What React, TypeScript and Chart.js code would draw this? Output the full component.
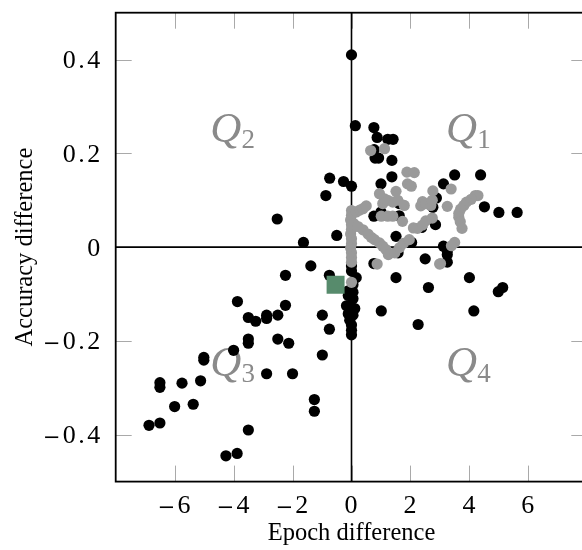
import React, { useEffect, useRef } from 'react';
import { Chart, registerables } from 'chart.js';

Chart.register(...registerables);

// ---- data ----
const xRange = [-8, 8];
const yRange = [-0.5, 0.5];
const xTicks = [-6, -4, -2, 0, 2, 4, 6];
const xTickLabels = ['\u22126', '\u22124', '\u22122', '0', '2', '4', '6'];
const yTicks = [-0.4, -0.2, 0, 0.2, 0.4];
const yTickLabels = ['\u22120.4', '\u22120.2', '0', '0.2', '0.4'];
const xTitle = 'Epoch difference';
const yTitle = 'Accuracy difference';

const quadrantNames = ['1', '2', '3', '4'];
const quadrantX = [4, -4, -4, 4];
const quadrantY = [0.25, 0.25, -0.25, -0.25];

const blackPoints: [number, number][] = [
  [0.0, 0.41], [-0.74, 0.147], [-0.27, 0.14], [0.0, 0.13], [-0.87, 0.11], [-2.52, 0.06],
  [-0.5, 0.025], [-1.63, 0.01],
  [-1.38, -0.04], [-2.24, -0.06], [-0.75, -0.06], [-3.87, -0.116], [-2.24, -0.124],
  [-3.5, -0.15], [-3.25, -0.158], [-2.88, -0.145], [-2.88, -0.152], [-2.5, -0.145],
  [-0.99, -0.145], [-0.75, -0.175], [-3.5, -0.196], [-3.5, -0.205], [-2.5, -0.196],
  [-2.13, -0.205], [-4.0, -0.22], [-5.01, -0.235], [-5.01, -0.241], [-0.99, -0.23],
  [-2.88, -0.27], [-2.0, -0.27], [-6.5, -0.289], [-6.5, -0.299], [-5.75, -0.29],
  [-5.12, -0.285], [-6.0, -0.34], [-5.37, -0.335], [-1.26, -0.325], [-1.26, -0.35],
  [-6.87, -0.38], [-6.5, -0.375], [-3.5, -0.39], [-4.26, -0.445], [-3.88, -0.44],
  [0.0, -0.04], [0.0, -0.051], [0.16, -0.065], [0.05, -0.08], [-0.11, -0.093], [0.05, -0.096],
  [-0.11, -0.103], [0.05, -0.11], [-0.17, -0.125], [-0.06, -0.131], [0.11, -0.131],
  [-0.11, -0.142], [0.05, -0.145], [-0.06, -0.156], [0.0, -0.166], [0.0, -0.177], [0.0, -0.187],
  [0.13, 0.259], [0.76, 0.255], [0.87, 0.234], [1.23, 0.23], [1.41, 0.23], [0.77, 0.208],
  [0.8, 0.19], [0.92, 0.19], [1.37, 0.185], [3.5, 0.154], [4.38, 0.154], [1.37, 0.15],
  [1.0, 0.135], [3.12, 0.135], [2.88, 0.105], [1.62, 0.093], [4.51, 0.086], [2.76, 0.085],
  [5.0, 0.074], [5.62, 0.074], [0.76, 0.066], [1.0, 0.075], [1.62, 0.067], [2.85, 0.048],
  [2.38, 0.042], [1.51, 0.023], [2.04, 0.01], [3.12, 0.002], [3.25, -0.008], [3.25, -0.016],
  [1.58, -0.012],
  [0.76, -0.035], [2.5, -0.025], [3.25, -0.032], [1.51, -0.065], [4.0, -0.065], [2.61, -0.086],
  [4.98, -0.095], [5.13, -0.086], [1.01, -0.136], [4.15, -0.136], [2.26, -0.165],
];

const grayPoints: [number, number][] = [
  [0.0, 0.078], [0.0, 0.068], [-0.03, 0.058], [0.0, 0.048], [0.0, 0.038], [-0.03, 0.028],
  [0.0, 0.018], [0.0, 0.008], [-0.03, -0.002], [0.0, -0.012], [0.0, -0.022], [0.0, -0.032],
  [0.0, -0.075],
  [0.16, 0.075], [0.28, 0.079], [0.39, 0.082], [0.5, 0.088],
  [0.08, 0.05], [0.22, 0.044], [0.39, 0.037], [0.56, 0.028], [0.67, 0.021], [0.78, 0.016],
  [0.95, 0.009], [1.06, 0.002], [1.17, -0.005], [1.25, -0.016],
  [1.47, -0.012], [1.63, -0.001], [1.76, 0.008], [1.96, 0.016],
  [0.87, -0.036], [2.99, -0.036],
  [1.73, 0.055], [2.1, 0.041], [2.24, 0.04], [2.41, 0.047], [2.52, 0.056], [2.74, 0.062],
  [1.01, 0.066], [1.23, 0.066], [1.4, 0.066],
  [1.06, 0.093], [1.23, 0.1], [1.4, 0.096], [1.57, 0.1], [1.79, 0.089], [1.12, 0.103],
  [0.95, 0.114], [1.51, 0.119],
  [1.9, 0.135], [2.03, 0.13], [1.88, 0.16], [2.13, 0.159],
  [0.65, 0.206], [1.12, 0.21],
  [2.76, 0.12], [3.38, 0.124],
  [2.35, 0.088], [2.41, 0.097], [2.52, 0.093], [2.69, 0.089], [2.74, 0.1], [3.25, 0.087],
  [4.29, 0.11], [4.2, 0.11], [4.06, 0.102], [3.9, 0.096], [3.81, 0.089], [3.7, 0.081],
  [3.64, 0.072], [3.64, 0.064], [3.69, 0.054], [3.75, 0.04],
  [3.5, 0.01], [3.39, 0.003], [3.02, -0.035],
];

const highlightPoint: [number, number][] = [[-0.54, -0.08]];

// ---- styles ----
const SERIF = '"Liberation Serif", "Times New Roman", serif';
const TICK_FONT = `26px ${SERIF}`;
const MINUS_FONT = `21px "DejaVu Serif", serif`;

const toXY = (pts: [number, number][]) => pts.map(([x, y]) => ({ x, y }));

// draws a tick label in TeX-like style: long minus sign, slightly loose digits
function drawTickLabel(ctx: CanvasRenderingContext2D, text: string, x: number, y: number, align: string) {
  const chars = Array.from(text);
  const fonts = chars.map((c) => (c === '\u2212' ? MINUS_FONT : TICK_FONT));
  const widths = chars.map((c, i) => {
    ctx.font = fonts[i];
    return ctx.measureText(c).width;
  });
  const gaps: number[] = [];
  let total = 0;
  chars.forEach((c, i) => {
    total += widths[i];
    if (i < chars.length - 1) {
      const g = c === '\u2212' ? 2 : 2.5;
      gaps.push(g);
      total += g;
    }
  });
  let cx = align === 'right' ? x - total : align === 'center' ? x - total / 2 : x;
  ctx.textAlign = 'left';
  chars.forEach((c, i) => {
    ctx.font = fonts[i];
    ctx.fillText(c, cx, c === '\u2212' ? y + 1 : y);
    cx += widths[i] + (gaps[i] || 0);
  });
}

const decorPlugin = {
  id: 'decor',
  beforeDatasetsDraw(chart: any) {
    const { ctx, chartArea: a, scales } = chart;
    const xs = scales.x;
    const ys = scales.y;
    ctx.save();
    // inside tick marks on all four sides
    ctx.strokeStyle = '#a9a9a9';
    ctx.lineWidth = 1;
    const L = 16;
    ctx.beginPath();
    for (const v of xTicks) {
      const px = Math.round(xs.getPixelForValue(v)) + 0.5;
      ctx.moveTo(px, a.top);
      ctx.lineTo(px, a.top + L);
      ctx.moveTo(px, a.bottom);
      ctx.lineTo(px, a.bottom - L);
    }
    for (const v of yTicks) {
      const py = Math.round(ys.getPixelForValue(v)) + 0.5;
      ctx.moveTo(a.left, py);
      ctx.lineTo(a.left + L, py);
      ctx.moveTo(a.right, py);
      ctx.lineTo(a.right - L, py);
    }
    ctx.stroke();

    // tick labels
    ctx.fillStyle = '#000';
    ctx.textBaseline = 'alphabetic';
    xTicks.forEach((v, i) => {
      drawTickLabel(ctx, xTickLabels[i], xs.getPixelForValue(v) - 0.5, a.bottom + 31.5, 'center');
    });
    yTicks.forEach((v, i) => {
      drawTickLabel(ctx, yTickLabels[i], a.left - 15.5, ys.getPixelForValue(v) + 8.5, 'right');
    });

    // quadrant labels
    ctx.fillStyle = '#8a8a8a';
    const qFont = `italic 43px ${SERIF}`;
    const sFont = `27px ${SERIF}`;
    quadrantNames.forEach((n, i) => {
      const cx = xs.getPixelForValue(quadrantX[i]);
      const cy = ys.getPixelForValue(quadrantY[i]);
      ctx.font = qFont;
      const wq = ctx.measureText('Q').width;
      ctx.font = sFont;
      const wsub = ctx.measureText(n).width;
      const left = cx - (wq + wsub) / 2 - 1;
      ctx.textAlign = 'left';
      ctx.font = qFont;
      ctx.fillText('Q', left, cy + 12);
      ctx.font = sFont;
      ctx.fillText(n, left + wq, cy + 18);
    });

    // zero lines
    ctx.strokeStyle = '#000';
    ctx.lineWidth = 1.6;
    const x0 = xs.getPixelForValue(0);
    const y0 = ys.getPixelForValue(0);
    ctx.beginPath();
    ctx.moveTo(x0, a.top);
    ctx.lineTo(x0, a.bottom);
    ctx.moveTo(a.left, y0);
    ctx.lineTo(a.right, y0);
    ctx.stroke();

    // frame
    ctx.lineWidth = 1.8;
    ctx.strokeRect(a.left, a.top, a.right - a.left, a.bottom - a.top);
    ctx.restore();
  },
};

export default function App() {
  const ref = useRef<HTMLCanvasElement | null>(null);

  useEffect(() => {
    if (!ref.current) return;
    const chart = new Chart(ref.current, {
      type: 'scatter',
      data: {
        datasets: [
          {
            label: 'highlight',
            data: toXY(highlightPoint),
            pointStyle: 'rect',
            pointRadius: 12.7,
            backgroundColor: '#578b6c',
            borderWidth: 0,
            order: 0,
          },
          {
            label: 'gray',
            data: toXY(grayPoints),
            pointRadius: 5.6,
            backgroundColor: '#9a9a9a',
            borderWidth: 0,
            order: 1,
          },
          {
            label: 'black',
            data: toXY(blackPoints),
            pointRadius: 5.6,
            backgroundColor: '#000000',
            borderWidth: 0,
            order: 2,
          },
        ],
      },
      options: {
        responsive: false,
        animation: false,
        devicePixelRatio: 1,
        events: [],
        layout: { padding: { top: 6.7, right: 8, bottom: 0, left: 0 } },
        plugins: { legend: { display: false }, tooltip: { enabled: false } },
        scales: {
          x: {
            type: 'linear',
            min: xRange[0],
            max: xRange[1],
            grid: { display: false, drawTicks: false },
            border: { display: false },
            afterBuildTicks: (s: any) => {
              s.ticks = xTicks.map((v) => ({ value: v }));
            },
            afterFit: (s: any) => {
              s.height = 68.4;
              s.paddingLeft = 0;
              s.paddingRight = 0;
            },
            ticks: { display: false },
            title: {
              display: true,
              text: xTitle,
              color: '#000',
              font: { family: SERIF, size: 24.5 },
              padding: { top: 0, bottom: 2 },
            },
          },
          y: {
            type: 'linear',
            min: yRange[0],
            max: yRange[1],
            grid: { display: false, drawTicks: false },
            border: { display: false },
            afterBuildTicks: (s: any) => {
              s.ticks = yTicks.map((v) => ({ value: v }));
            },
            afterFit: (s: any) => {
              s.width = 115.7;
              s.paddingTop = 0;
              s.paddingBottom = 0;
            },
            ticks: { display: false },
            title: {
              display: true,
              text: yTitle,
              color: '#000',
              font: { family: SERIF, size: 24.5 },
              padding: { top: 11, bottom: 0 },
            },
          },
        },
      },
      plugins: [decorPlugin],
    } as any);
    return () => chart.destroy();
  }, []);

  return (
    <div
      style={{
        position: 'fixed',
        left: 0,
        top: 0,
        width: 582,
        height: 550,
        overflow: 'hidden',
        background: '#fff',
      }}
    >
      <canvas ref={ref} width={600} height={550} style={{ display: 'block', width: 600, height: 550 }} />
    </div>
  );
}
